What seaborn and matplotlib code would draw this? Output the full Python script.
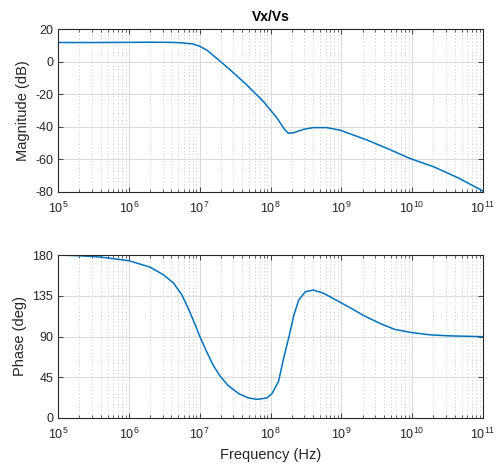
import numpy as np
import pandas as pd
import matplotlib
matplotlib.use("Agg")
import matplotlib.pyplot as plt
import seaborn as sns
from matplotlib.ticker import LogLocator, NullFormatter, FixedLocator

# ---- data ----
mag_freq = [1e5, 3.16e5, 1e6, 2e6, 3.8e6, 5.25e6, 8.1e6, 1e7, 1.26e7, 1.74e7,
            2.7e7, 4.6e7, 7.9e7, 1.23e8, 1.58e8, 1.78e8, 2.1e8, 2.9e8, 4.0e8,
            6.2e8, 9.5e8, 2.3e9, 4.4e9, 9.3e9, 2.0e10, 4.3e10, 9.1e10, 1e11]
mag_db = [11.7, 11.7, 11.8, 11.9, 11.8, 11.6, 10.8, 9.4, 7.1, 2.0,
          -5.1, -14.2, -24.4, -34.5, -41.6, -43.9, -43.7, -41.6, -40.5,
          -40.5, -42.0, -48.1, -53.2, -59.4, -64.5, -71.0, -78.4, -79.5]

ph_freq = [1e5, 2e5, 3.9e5, 1e6, 2e6, 3.1e6, 4.3e6, 5.6e6, 6.9e6, 8.5e6,
           1.01e7, 1.26e7, 1.55e7, 1.95e7, 2.5e7, 3.55e7, 4.9e7, 6.5e7, 8.9e7,
           1.05e8, 1.3e8, 1.51e8, 1.82e8, 2.14e8, 2.5e8, 3.1e8, 4.0e8, 5.6e8,
           8.1e8, 1.26e9, 2.14e9, 3.7e9, 5.75e9, 9.8e9, 1.8e10, 3.4e10, 8.1e10, 1e11]
ph_deg = [180, 179.2, 177.8, 173.7, 166.6, 158.0, 148.8, 136.0, 121.0, 104.4,
          89.6, 73.0, 58.3, 46.1, 36.1, 26.9, 22.1, 20.6, 22.1,
          27.0, 40.5, 63.8, 89.6, 113.6, 130.2, 139.4, 141.3, 137.8,
          131.0, 122.8, 112.5, 103.7, 97.7, 94.4, 91.8, 90.7, 90.0, 89.8]

mag_ticks = [-80, -60, -40, -20, 0, 20]
ph_ticks = [0, 45, 90, 135, 180]
title = "Vx/Vs"

# ---- style ----
sns.set_style("ticks")
plt.rcParams['font.family'] = ['Liberation Sans', 'DejaVu Sans']
plt.rcParams['axes.unicode_minus'] = False
txt = '#262626'
line_c = '#0072BD'

fig = plt.figure(figsize=(4.97, 4.71), dpi=100)
ax1 = fig.add_axes([58/497, 1-192/471, 425/497, 163/471])
ax2 = fig.add_axes([58/497, 1-418/471, 425/497, 163/471])

df_mag = pd.DataFrame({'f': mag_freq, 'v': mag_db})
df_ph = pd.DataFrame({'f': ph_freq, 'v': ph_deg})
sns.lineplot(data=df_mag, x='f', y='v', ax=ax1, color=line_c, lw=1.1, sort=False)
sns.lineplot(data=df_ph, x='f', y='v', ax=ax2, color=line_c, lw=1.1, sort=False)

for ax, yt, ylab in [(ax1, mag_ticks, 'Magnitude (dB)'), (ax2, ph_ticks, 'Phase (deg)')]:
    ax.set_xscale('log')
    ax.set_xlim(1e5, 1e11)
    ax.set_ylim(yt[0], yt[-1])
    ax.yaxis.set_major_locator(FixedLocator(yt))
    ax.xaxis.set_major_locator(LogLocator(base=10, numticks=20))
    ax.xaxis.set_minor_locator(LogLocator(base=10, subs=np.arange(2, 10), numticks=100))
    ax.xaxis.set_minor_formatter(NullFormatter())
    ax.grid(True, which='major', color='#dcdcdc', lw=0.8, ls='-')
    ax.grid(True, which='minor', axis='x', color='#c8c8c8', lw=0.7, ls=(0, (1, 2.5)))
    ax.set_axisbelow(True)
    ax.tick_params(which='both', direction='in', top=True, right=True,
                   colors=txt, labelsize=9, labelcolor=txt)
    ax.tick_params(which='major', length=3.5, width=0.6)
    ax.tick_params(which='minor', length=2, width=0.5)
    ax.tick_params(axis='x', which='major', pad=6)
    for s in ax.spines.values():
        s.set_color(txt)
        s.set_linewidth(0.8)
    ax.set_ylabel(ylab, fontsize=10.5, color=txt, labelpad=4)
    ax.set_xlabel('')

ax1.set_title(title, fontsize=10, fontweight='bold', color='black', pad=6)
ax2.set_xlabel('Frequency (Hz)', fontsize=10.5, color=txt, labelpad=5)

fig.savefig('out.png', dpi=100, facecolor='white')
